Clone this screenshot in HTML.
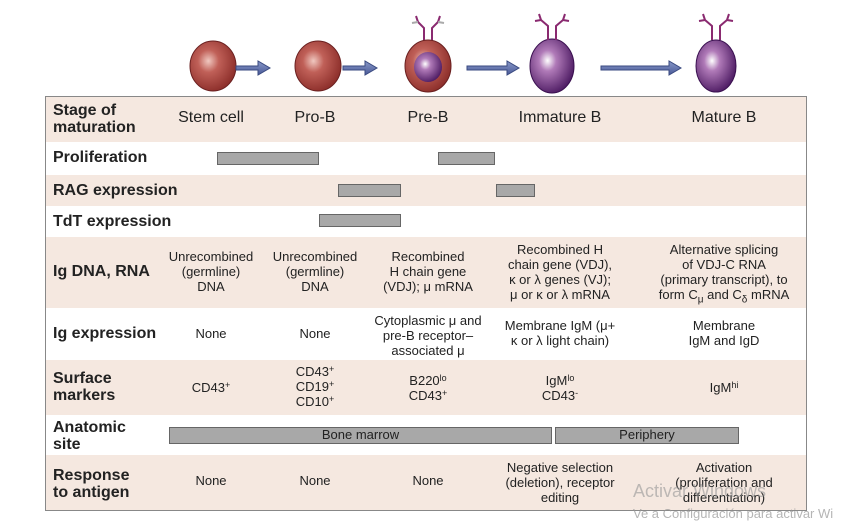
<!DOCTYPE html>
<html><head><meta charset="utf-8"><style>
body{margin:0;width:862px;height:526px;background:#fff;position:relative;overflow:hidden;font-family:"Liberation Sans",Arial,sans-serif;color:#222}
.row{position:absolute;left:46px;width:760px}
.t{background:#f5e8e0}
.lab{position:absolute;left:53px;font-weight:bold;font-size:16px;line-height:17px}
.c{position:absolute;text-align:center;font-size:13px;line-height:15px;transform:translateX(-50%);white-space:nowrap}
.h{font-size:16px}
.bar{position:absolute;background:#a8a8a8;border:1.5px solid #666;box-sizing:border-box;font-size:13px;text-align:center;line-height:14px}
sup{font-size:9px;line-height:0;vertical-align:4px}
sub{line-height:0}
</style></head><body>
<svg width="862" height="100" style="position:absolute;left:0;top:0">
<defs>
<radialGradient id="r" cx="40%" cy="40%" r="65%"><stop offset="0" stop-color="#f0c8c0"/><stop offset="0.35" stop-color="#c06058"/><stop offset="1" stop-color="#8a2c28"/></radialGradient>
<radialGradient id="p" cx="40%" cy="40%" r="65%"><stop offset="0" stop-color="#ffffff"/><stop offset="0.3" stop-color="#b07ab8"/><stop offset="1" stop-color="#4a1860"/></radialGradient>
<linearGradient id="a" x1="0" y1="0" x2="0" y2="1"><stop offset="0" stop-color="#8898c8"/><stop offset="1" stop-color="#4a5a98"/></linearGradient>
</defs>
<ellipse cx="213" cy="66" rx="23" ry="25" fill="url(#r)" stroke="#6a2020"/>
<ellipse cx="318" cy="66" rx="23" ry="25" fill="url(#r)" stroke="#6a2020"/>
<ellipse cx="428" cy="66" rx="23" ry="26" fill="url(#r)" stroke="#6a2020"/>
<ellipse cx="428" cy="67" rx="14" ry="15" fill="url(#p)"/>
<ellipse cx="552" cy="66" rx="22" ry="27" fill="url(#p)" stroke="#3a1050"/>
<ellipse cx="716" cy="66" rx="20" ry="26" fill="url(#p)" stroke="#3a1050"/>
<g stroke="#8a2a70" stroke-width="2" fill="none">
<path d="M424 40V28l-6-6M432 40V28l6-6M418 22l-2-6M438 22l2-6"/>
<path d="M548 40V26l-7-6M556 40V26l7-6M541 20l-2-6M563 20l2-6M541 20l-6 1M563 20l6 1"/>
<path d="M712 40V26l-7-6M720 40V26l7-6M705 20l-2-6M727 20l2-6M705 20l-6 1M727 20l6 1"/>
</g>
<g stroke="#aaa" stroke-width="2" fill="none"><path d="M418 22l-6 1M438 22l6 1"/></g>
<g fill="url(#a)" stroke="#3a4a80">
<path d="M236 66h22v-5l12 7-12 7v-5h-22z"/>
<path d="M343 66h22v-5l12 7-12 7v-5h-22z"/>
<path d="M467 66h40v-5l12 7-12 7v-5h-40z"/>
<path d="M601 66h68v-5l12 7-12 7v-5h-68z"/>
</g>
</svg>
<div style="position:absolute;left:45px;top:96px;width:762px;height:415px;border:1.5px solid #888;box-sizing:border-box"></div>
<div class="row t" style="top:97px;height:45px"></div>
<div class="row t" style="top:175px;height:31px"></div>
<div class="row t" style="top:237px;height:71px"></div>
<div class="row t" style="top:360px;height:55px"></div>
<div class="row t" style="top:455px;height:55px"></div>

<div class="lab" style="top:102px">Stage of<br>maturation</div>
<div class="c h" style="left:211px;top:110px">Stem cell</div>
<div class="c h" style="left:315px;top:110px">Pro-B</div>
<div class="c h" style="left:428px;top:110px">Pre-B</div>
<div class="c h" style="left:560px;top:110px">Immature B</div>
<div class="c h" style="left:724px;top:110px">Mature B</div>

<div class="lab" style="top:149px">Proliferation</div>
<div class="bar" style="left:217px;top:152px;width:102px;height:13px"></div>
<div class="bar" style="left:438px;top:152px;width:57px;height:13px"></div>
<div class="lab" style="top:182px">RAG expression</div>
<div class="bar" style="left:338px;top:184px;width:63px;height:13px"></div>
<div class="bar" style="left:496px;top:184px;width:39px;height:13px"></div>
<div class="lab" style="top:213px">TdT expression</div>
<div class="bar" style="left:319px;top:214px;width:82px;height:13px"></div>

<div class="lab" style="top:263px">Ig DNA, RNA</div>
<div class="c" style="left:211px;top:249px">Unrecombined<br>(germline)<br>DNA</div>
<div class="c" style="left:315px;top:249px">Unrecombined<br>(germline)<br>DNA</div>
<div class="c" style="left:428px;top:249px">Recombined<br>H chain gene<br>(VDJ); μ mRNA</div>
<div class="c" style="left:560px;top:242px">Recombined H<br>chain gene (VDJ),<br>κ or λ genes (VJ);<br>μ or κ or λ mRNA</div>
<div class="c" style="left:724px;top:242px">Alternative splicing<br>of VDJ-C RNA<br>(primary transcript), to<br>form C<sub style="font-size:10px">μ</sub> and C<sub style="font-size:10px">δ</sub> mRNA</div>

<div class="lab" style="top:325px">Ig expression</div>
<div class="c" style="left:211px;top:326px">None</div>
<div class="c" style="left:315px;top:326px">None</div>
<div class="c" style="left:428px;top:313px">Cytoplasmic μ and<br>pre-B receptor–<br>associated μ</div>
<div class="c" style="left:560px;top:318px">Membrane IgM (μ+<br>κ or λ light chain)</div>
<div class="c" style="left:724px;top:318px">Membrane<br>IgM and IgD</div>

<div class="lab" style="top:370px">Surface<br>markers</div>
<div class="c" style="left:211px;top:380px">CD43<sup>+</sup></div>
<div class="c" style="left:315px;top:364px">CD43<sup>+</sup><br>CD19<sup>+</sup><br>CD10<sup>+</sup></div>
<div class="c" style="left:428px;top:373px">B220<sup>lo</sup><br>CD43<sup>+</sup></div>
<div class="c" style="left:560px;top:373px">IgM<sup>lo</sup><br>CD43<sup>-</sup></div>
<div class="c" style="left:724px;top:380px">IgM<sup>hi</sup></div>

<div class="lab" style="top:419px">Anatomic<br>site</div>
<div class="bar" style="left:169px;top:427px;width:383px;height:17px">Bone marrow</div>
<div class="bar" style="left:555px;top:427px;width:184px;height:17px">Periphery</div>

<div class="lab" style="top:467px">Response<br>to antigen</div>
<div class="c" style="left:211px;top:473px">None</div>
<div class="c" style="left:315px;top:473px">None</div>
<div class="c" style="left:428px;top:473px">None</div>
<div class="c" style="left:560px;top:460px">Negative selection<br>(deletion), receptor<br>editing</div>
<div class="c" style="left:724px;top:460px">Activation<br>(proliferation and<br>differentiation)</div>

<div style="position:absolute;left:633px;top:481px;font-size:18px;color:rgba(150,150,150,0.6)">Activar Windows</div>
<div style="position:absolute;left:633px;top:506px;font-size:13px;color:rgba(150,150,150,0.7);white-space:nowrap">Ve a Configuración para activar Wi</div>
</body></html>
